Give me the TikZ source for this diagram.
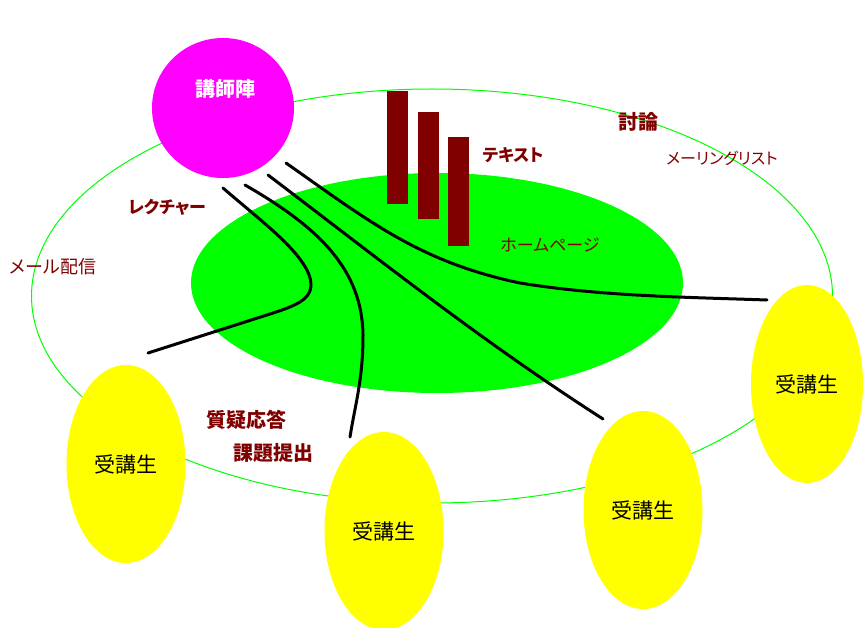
\documentclass[tikz,border=0pt]{standalone}
\usepackage{fontspec}
\usetikzlibrary{shapes.geometric}
\newfontfamily\jp[RawFeature=+palt]{Noto Sans CJK JP}
\definecolor{lime}{HTML}{00FF00}
\definecolor{mag}{HTML}{FF00FF}
\definecolor{yel}{HTML}{FFFF00}
\definecolor{maroon}{HTML}{800000}
\tikzset{
  ringshape/.style={ellipse, draw=lime, line width=1pt, inner sep=0pt},
  hpshape/.style={ellipse, fill=lime, inner sep=0pt},
  instshape/.style={ellipse, fill=mag, inner sep=0pt, minimum width=142pt, minimum height=140pt},
  stushape/.style={ellipse, fill=yel, inner sep=0pt, minimum width=119pt, minimum height=198pt,
     font=\jp\fontsize{21}{24}\selectfont, text=black},
  barshape/.style={fill=maroon, draw=none, inner sep=0pt, anchor=north west},
  wire/.style={line width=3pt, black, line cap=round},
  lblb/.style={font=\jp\bfseries\fontsize{20}{24}\selectfont, text=maroon, inner sep=0pt},
  lblk/.style={font=\jp\bfseries\fontsize{17}{20}\selectfont, text=maroon, inner sep=0pt},
  lbln/.style={font=\jp\fontsize{16}{20}\selectfont, text=maroon, inner sep=0pt},
}
\begin{document}
\begin{tikzpicture}[x=1pt,y=-1pt]
\useasboundingbox (0,0) rectangle (864,628);
% outer ring and homepage ellipse
\node[ringshape, minimum width=801pt, minimum height=414pt] (ring) at (432,296) {};
\node[hpshape, minimum width=492pt, minimum height=220pt] (hp) at (437,283) {};
% instructor
\node[instshape] (inst) at (223,108) {};
\node[font=\jp\bfseries\fontsize{20}{24}\selectfont, text=white, inner sep=0pt] (instT) at (225,89) {講師陣};
% text bars
\node[barshape, minimum width=21pt, minimum height=113pt] (bar1) at (387,91) {};
\node[barshape, minimum width=21pt, minimum height=107pt] (bar2) at (418,112) {};
\node[barshape, minimum width=21pt, minimum height=109pt] (bar3) at (448,137) {};
% wire end points
\coordinate (w1s) at (223,188);
\coordinate (w1e) at (148,353);
\coordinate (w2s) at (245,185);
\coordinate (w2e) at (350,437);
\coordinate (w3s) at (268,175);
\coordinate (w3e) at (603,419);
\coordinate (w4s) at (286,163);
\coordinate (w4e) at (767,300);
\draw[wire] (w1s) .. controls (262,222) and (312,258) .. (311,286)
   .. controls (310,300) and (295,306) .. (270,314) -- (w1e);
\draw[wire] (w2s) .. controls (320,228) and (362,270) .. (363,335)
   .. controls (363,380) and (355,405) .. (w2e);
\draw[wire] (w3s) .. controls (380,260) and (480,340) .. (w3e);
\draw[wire] (w4s) .. controls (370,222) and (420,262) .. (520,283)
   .. controls (600,296) and (680,297) .. (w4e);
% students
\node[stushape] (stu1) at (126,464) {受講生};
\node[stushape] (stu2) at (384,531) {受講生};
\node[stushape] (stu3) at (643,510) {受講生};
\node[stushape, minimum width=112pt] (stu4) at (807,384) {受講生};
% labels
\node[lblk] (text) at (513,155) {テキスト};
\node[lblb] (disc) at (638,122) {討論};
\node[lbln] (ml) at (722,158) {メーリングリスト};
\node[lbln, font=\jp\fontsize{17}{20}\selectfont] (hpT) at (550,245) {ホームページ};
\node[lblk] (lect) at (167,207) {レクチャー};
\node[lbln, font=\jp\fontsize{18}{20}\selectfont] (mail) at (53,267) {メール配信};
\node[lblb] (qa) at (246,420) {質疑応答};
\node[lblb] (hw) at (273,453) {課題提出};
\end{tikzpicture}
\end{document}
